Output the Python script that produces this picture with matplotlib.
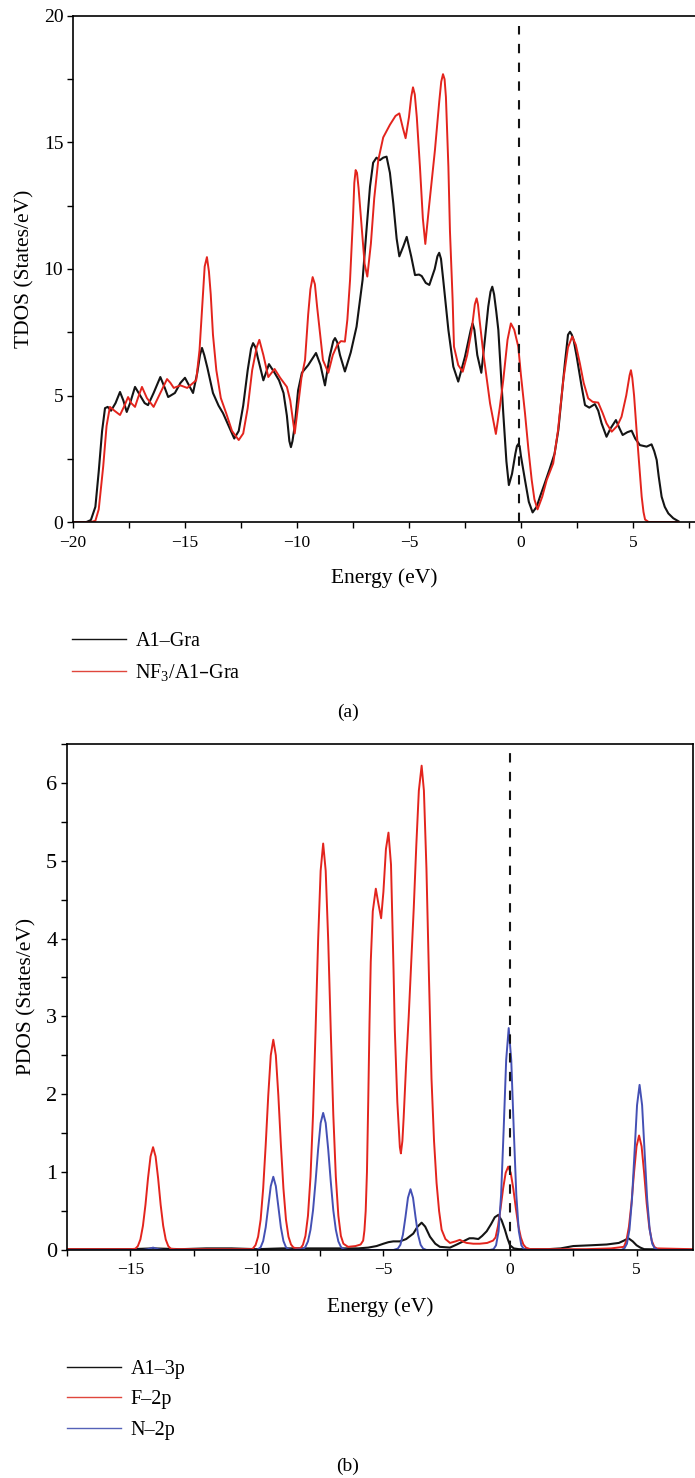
import numpy as np
import matplotlib
matplotlib.use('Agg')
import matplotlib.pyplot as plt
from matplotlib.lines import Line2D
from matplotlib.ticker import MultipleLocator

plt.rcParams['font.family'] = ['Liberation Serif', 'DejaVu Serif']
plt.rcParams['mathtext.default'] = 'regular'

# total DOS, pristine Al-doped graphene
gra_energy = [-20.0, -19.4, -19.2, -19.0, -18.85, -18.7, -18.57, -18.45, -18.3, -18.1, -17.9, -17.75,
              -17.6, -17.45, -17.23, -17.0, -16.8, -16.65, -16.4, -16.1, -15.9, -15.75, -15.45, -15.2,
              -15.0, -14.82, -14.64, -14.45, -14.33, -14.24, -14.14, -14.0, -13.75, -13.5, -13.3, -13.05,
              -12.8, -12.6, -12.4, -12.2, -12.05, -11.96, -11.85, -11.75, -11.5, -11.25, -11.0, -10.8,
              -10.6, -10.45, -10.34, -10.27, -10.2, -10.1, -9.95, -9.78, -9.5, -9.15, -8.95, -8.75,
              -8.55, -8.38, -8.3, -8.2, -8.08, -7.86, -7.6, -7.34, -7.07, -6.9, -6.74, -6.6, -6.45,
              -6.3, -6.15, -6.0, -5.85, -5.7, -5.55, -5.43, -5.25, -5.1, -4.9, -4.73, -4.55, -4.43,
              -4.25, -4.09, -3.85, -3.73, -3.65, -3.57, -3.47, -3.24, -3.02, -2.8, -2.5, -2.24, -2.16,
              -2.08, -1.95, -1.77, -1.6, -1.46, -1.36, -1.28, -1.2, -1.1, -1.01, -0.79, -0.65, -0.54,
              -0.4, -0.25, -0.18, -0.12, -0.06, 0.0, 0.18, 0.35, 0.52, 0.7, 0.85, 1.05, 1.29, 1.5,
              1.67, 1.85, 1.96, 2.1, 2.19, 2.27, 2.35, 2.49, 2.7, 2.86, 3.05, 3.3, 3.45, 3.6, 3.82,
              4.0, 4.24, 4.4, 4.54, 4.75, 4.94, 5.1, 5.31, 5.61, 5.83, 5.95, 6.06, 6.15, 6.28, 6.42,
              6.58, 6.8, 7.03]
gra_tdos = [0.0, 0.0, 0.08, 0.6, 2.0, 3.6, 4.5, 4.55, 4.4, 4.7, 5.14, 4.8,
            4.35, 4.7, 5.34, 5.0, 4.7, 4.62, 5.1, 5.73, 5.3, 4.94, 5.1, 5.5,
            5.7, 5.4, 5.1, 5.9, 6.6, 6.88, 6.6, 6.1, 5.1, 4.6, 4.3, 3.8,
            3.3, 3.6, 4.6, 6.0, 6.85, 7.07, 6.9, 6.5, 5.6, 6.24, 5.9, 5.6,
            5.1, 4.2, 3.2, 2.96, 3.2, 3.8, 5.2, 5.9, 6.2, 6.68, 6.2, 5.4,
            6.5, 7.15, 7.27, 7.1, 6.6, 5.95, 6.7, 7.72, 9.57, 11.5, 13.25, 14.2, 14.4,
            14.3, 14.4, 14.44, 13.8, 12.6, 11.2, 10.5, 10.9, 11.27, 10.5, 9.76, 9.78, 9.72,
            9.45, 9.37, 10.0, 10.5, 10.64, 10.4, 9.57, 7.59, 6.14, 5.55, 6.53, 7.6, 7.85,
            7.6, 6.6, 5.9, 7.3, 8.51, 9.1, 9.3, 9.0, 8.3, 7.59, 4.3, 2.4, 1.46,
            1.9, 2.7, 3.0, 3.08, 3.0, 2.6, 1.66, 0.8, 0.38, 0.6, 1.0, 1.5, 2.12, 2.7,
            3.64, 5.3, 6.27, 7.4, 7.52, 7.4, 7.2, 6.53, 5.4, 4.62, 4.52, 4.66, 4.4, 3.9, 3.37,
            3.7, 4.03, 3.7, 3.44, 3.55, 3.61, 3.3, 3.04, 2.98, 3.07, 2.8, 2.45, 1.8, 1.0, 0.6,
            0.34, 0.15, 0.03]

# total DOS after NF3 adsorption
nf3_energy = [-20.0, -19.2, -19.0, -18.85, -18.65, -18.5, -18.35, -18.15, -17.9, -17.7, -17.54, -17.4,
              -17.23, -17.1, -16.92, -16.7, -16.4, -16.1, -15.8, -15.65, -15.5, -15.35, -15.2, -15.05,
              -14.9, -14.7, -14.5, -14.35, -14.28, -14.2, -14.12, -14.02, -13.93, -13.85, -13.75, -13.6,
              -13.4, -13.16, -12.9, -12.6, -12.4, -12.2, -12.0, -11.8, -11.68, -11.5, -11.28, -11.0,
              -10.75, -10.45, -10.3, -10.1, -9.95, -9.8, -9.64, -9.5, -9.4, -9.3, -9.2, -9.1, -8.84,
              -8.6, -8.4, -8.2, -8.04, -7.86, -7.75, -7.63, -7.5, -7.44, -7.38, -7.32, -7.25, -7.11,
              -6.98, -6.86, -6.7, -6.55, -6.37, -6.15, -5.85, -5.6, -5.43, -5.28, -5.15, -5.0, -4.9,
              -4.82, -4.74, -4.65, -4.51, -4.38, -4.27, -4.1, -3.84, -3.65, -3.56, -3.48, -3.41, -3.35,
              -3.24, -3.17, -3.05, -2.99, -2.8, -2.6, -2.4, -2.2, -2.06, -1.98, -1.92, -1.85, -1.68,
              -1.38, -1.12, -0.95, -0.79, -0.6, -0.45, -0.3, -0.12, 0.0, 0.18, 0.33, 0.48, 0.6, 0.74,
              0.95, 1.15, 1.44, 1.65, 1.89, 2.1, 2.29, 2.45, 2.63, 2.8, 3.0, 3.2, 3.45, 3.65, 3.82,
              4.05, 4.3, 4.49, 4.7, 4.85, 4.91, 4.97, 5.05, 5.16, 5.3, 5.39, 5.47, 5.54, 5.7, 7.03]
nf3_tdos = [0.0, 0.0, 0.05, 0.5, 2.2, 3.8, 4.55, 4.4, 4.23, 4.6, 4.94, 4.7,
            4.55, 4.9, 5.34, 4.9, 4.55, 5.1, 5.65, 5.5, 5.3, 5.35, 5.4, 5.35,
            5.3, 5.45, 5.6, 6.8, 7.8, 9.0, 10.1, 10.47, 9.9, 9.0, 7.4, 6.0,
            4.9, 4.3, 3.6, 3.24, 3.5, 4.5, 6.0, 6.9, 7.2, 6.6, 5.73, 6.05,
            5.7, 5.34, 4.8, 3.5, 4.6, 5.7, 6.4, 8.2, 9.2, 9.68, 9.4, 8.5, 6.4,
            5.9, 6.6, 7.0, 7.15, 7.13, 8.0, 9.57, 12.0, 13.4, 13.91, 13.8, 13.2, 11.67,
            10.2, 9.7, 11.0, 12.8, 14.3, 15.2, 15.7, 16.05, 16.15, 15.6, 15.17, 16.0, 16.8,
            17.18, 16.9, 16.0, 14.04, 12.0, 10.99, 12.5, 14.7, 16.6, 17.4, 17.7, 17.5, 16.8,
            14.04, 11.5, 8.77, 6.93, 6.2, 5.94, 6.6, 7.59, 8.6, 8.84, 8.6, 8.0, 6.67,
            4.69, 3.48, 4.5, 5.61, 7.2, 7.85, 7.6, 6.93, 5.8, 4.3, 2.9, 1.66, 0.9, 0.5,
            1.0, 1.66, 2.32, 3.6, 5.61, 6.9, 7.33, 7.0, 6.27, 5.5, 4.89, 4.75, 4.72, 4.3, 3.9,
            3.57, 3.8, 4.16, 5.0, 5.8, 6.0, 5.7, 5.0, 3.64, 2.0, 1.0, 0.4, 0.1, 0.0, 0.0]

# projected DOS: Al-3p
al_energy = [-17.5, -15.0, -14.1, -13.0, -12.0, -11.0, -10.0, -9.0, -8.0, -7.0, -6.0, -5.6, -5.27,
             -5.0, -4.8, -4.61, -4.35, -4.1, -3.82, -3.65, -3.49, -3.35, -3.16, -2.95, -2.77, -2.37,
             -2.1, -1.85, -1.6, -1.45, -1.25, -1.1, -0.92, -0.75, -0.6, -0.46, -0.33, -0.2, -0.1,
             0.0, 0.15, 0.35, 1.5, 2.0, 2.5, 3.2, 3.82, 4.3, 4.5, 4.68, 4.85, 5.0, 5.15, 5.3, 7.2]
al_3p = [0.01, 0.01, 0.02, 0.01, 0.02, 0.02, 0.01, 0.02, 0.02, 0.02, 0.02, 0.03, 0.05,
         0.08, 0.1, 0.11, 0.11, 0.14, 0.21, 0.3, 0.35, 0.3, 0.17, 0.08, 0.04, 0.03,
         0.07, 0.11, 0.15, 0.15, 0.14, 0.18, 0.24, 0.33, 0.42, 0.45, 0.38, 0.26, 0.15,
         0.06, 0.02, 0.01, 0.01, 0.02, 0.05, 0.06, 0.07, 0.09, 0.12, 0.15, 0.11, 0.06, 0.03, 0.01, 0.0]

# projected DOS: F-2p
f_energy = [-17.5, -16.0, -15.0, -14.8, -14.7, -14.6, -14.5, -14.4, -14.3, -14.2, -14.1, -14.0, -13.9,
            -13.8, -13.7, -13.6, -13.5, -13.4, -13.2, -10.5, -10.2, -10.15, -10.05, -9.95, -9.85,
            -9.75, -9.65, -9.55, -9.45, -9.35, -9.25, -9.15, -9.05, -8.95, -8.85, -8.75, -8.65,
            -8.55, -8.4, -8.28, -8.18, -8.08, -7.98, -7.88, -7.78, -7.68, -7.58, -7.48, -7.38,
            -7.28, -7.18, -7.08, -6.98, -6.88, -6.78, -6.68, -6.58, -6.4, -6.1, -5.9, -5.8, -5.75,
            -5.7, -5.65, -5.6, -5.55, -5.5, -5.42, -5.3, -5.2, -5.09, -5.0, -4.9, -4.8, -4.7, -4.6,
            -4.55, -4.45, -4.35, -4.31, -4.25, -4.2, -4.1, -4.0, -3.9, -3.8, -3.7, -3.6, -3.49,
            -3.4, -3.3, -3.2, -3.1, -3.0, -2.9, -2.8, -2.7, -2.55, -2.37, -2.15, -1.98, -1.8, -1.71,
            -1.45, -1.19, -0.9, -0.67, -0.57, -0.47, -0.37, -0.27, -0.17, -0.07, 0.03, 0.13, 0.23,
            0.33, 0.43, 0.53, 0.63, 0.8, 2.0, 3.0, 4.0, 4.5, 4.6, 4.7, 4.8, 4.9, 5.0, 5.1, 5.2,
            5.3, 5.4, 5.5, 5.6, 5.7, 5.8, 7.2]
f_2p = [0.01, 0.01, 0.01, 0.015, 0.05, 0.135, 0.31, 0.58, 0.92, 1.2, 1.32, 1.2, 0.92,
        0.58, 0.31, 0.135, 0.05, 0.015, 0.01, 0.01, 0.01, 0.02, 0.063, 0.17, 0.39,
        0.79, 1.35, 1.98, 2.5, 2.7, 2.5, 1.98, 1.35, 0.79, 0.39, 0.17, 0.07,
        0.03, 0.02, 0.02, 0.065, 0.18, 0.44, 0.94, 1.74, 2.82, 3.97, 4.87, 5.22,
        4.87, 3.97, 2.82, 1.74, 0.94, 0.44, 0.18, 0.08, 0.04, 0.05, 0.07, 0.12, 0.25,
        0.5, 1.0, 1.9, 2.9, 3.7, 4.35, 4.64, 4.45, 4.26, 4.6, 5.15, 5.36, 4.95, 3.6,
        2.83, 1.9, 1.32, 1.24, 1.4, 1.7, 2.4, 3.0, 3.7, 4.4, 5.2, 5.9, 6.22,
        5.9, 4.9, 3.5, 2.2, 1.4, 0.86, 0.5, 0.26, 0.14, 0.09, 0.11, 0.13, 0.1, 0.09,
        0.08, 0.08, 0.09, 0.12, 0.16, 0.31, 0.54, 0.79, 0.99, 1.07, 0.99, 0.79, 0.54,
        0.31, 0.16, 0.07, 0.03, 0.01, 0.01, 0.01, 0.02, 0.04, 0.12, 0.3, 0.6, 0.99, 1.33, 1.47, 1.33,
        0.99, 0.6, 0.3, 0.12, 0.04, 0.02, 0.01]

# projected DOS: N-2p
n_energy = [-17.5, -14.5, -14.3, -14.1, -13.9, -13.7, -10.0, -9.95, -9.85, -9.75, -9.65, -9.55, -9.45,
            -9.35, -9.25, -9.15, -9.05, -8.95, -8.85, -8.75, -8.6, -8.18, -8.08, -7.98, -7.88, -7.78,
            -7.68, -7.58, -7.48, -7.38, -7.28, -7.18, -7.08, -6.98, -6.88, -6.78, -6.68, -6.58, -6.4,
            -4.6, -4.43, -4.33, -4.23, -4.13, -4.03, -3.93, -3.83, -3.73, -3.63, -3.53, -3.43, -3.3,
            -0.8, -0.65, -0.55, -0.45, -0.35, -0.25, -0.15, -0.05, 0.05, 0.15, 0.25, 0.35, 0.45,
            0.55, 0.7, 4.4, 4.52, 4.62, 4.72, 4.82, 4.92, 5.02, 5.12, 5.22, 5.32, 5.42, 5.52, 5.62,
            5.72, 5.85, 7.2]
n_2p = [0.0, 0.0, 0.01, 0.03, 0.01, 0.0, 0.0, 0.01, 0.035, 0.115, 0.29, 0.555, 0.82,
        0.94, 0.82, 0.555, 0.29, 0.115, 0.035, 0.01, 0.0, 0.01, 0.04, 0.11, 0.26, 0.51,
        0.88, 1.29, 1.63, 1.76, 1.63, 1.29, 0.88, 0.51, 0.26, 0.11, 0.04, 0.01, 0.0,
        0.0, 0.017, 0.066, 0.195, 0.42, 0.67, 0.78, 0.67, 0.42, 0.195, 0.066, 0.017, 0.0,
        0.0, 0.01, 0.06, 0.24, 0.71, 1.54, 2.44, 2.85, 2.44, 1.54, 0.71, 0.24, 0.06,
        0.01, 0.0, 0.0, 0.02, 0.08, 0.26, 0.65, 1.25, 1.86, 2.12, 1.86, 1.25, 0.65, 0.26, 0.08,
        0.02, 0.0, 0.0]

RED = '#e3241d'
BLUE = '#4450b4'
BLACK = '#141414'


def style_axis(ax, xmajor, xminor, ymajor, yminor):
    ax.xaxis.set_major_locator(MultipleLocator(xmajor))
    ax.xaxis.set_minor_locator(MultipleLocator(xminor))
    ax.yaxis.set_major_locator(MultipleLocator(ymajor))
    ax.yaxis.set_minor_locator(MultipleLocator(yminor))
    ax.tick_params(which='both', direction='out', length=4, width=1, top=False, right=False)
    ax.tick_params(axis='x', labelsize=12.5, pad=5)
    ax.tick_params(axis='y', labelsize=14, pad=3)
    for spine in ax.spines.values():
        spine.set_linewidth(1.2)


fig = plt.figure(figsize=(6.95, 14.78), dpi=100)

# (a) total DOS
ax1 = fig.add_axes([0.105, 0.6468, 0.895, 0.3424])
ax1.plot(gra_energy, gra_tdos, color=BLACK, lw=1.5, solid_joinstyle='round')
ax1.plot(nf3_energy, nf3_tdos, color=RED, lw=1.4, solid_joinstyle='round')
ax1.plot([-0.1, -0.1], [0, 19.6], color=BLACK, lw=1.5, ls=(0, (4.5, 4.5)), zorder=5)
ax1.set_xlim(-20, 7.77)
ax1.set_ylim(0, 20)
ax1.spines['right'].set_visible(False)
style_axis(ax1, 5, 2.5, 5, 2.5)
ax1.set_xlabel('Energy (eV)', fontsize=15.5)
ax1.set_ylabel('TDOS (States/eV)', fontsize=15.5)
ax1.xaxis.set_label_coords(0.5, -0.092)
ax1.yaxis.set_label_coords(-0.062, 0.5)

handles_a = [Line2D([], [], color=BLACK, lw=1.0), Line2D([], [], color='#e0463c', lw=1.0)]
fig.legend(handles_a, ['A1–Gra', 'NF$_3$/A1–Gra'], loc='upper left', bbox_to_anchor=(0.1036, 0.5725),
           frameon=False, fontsize=14.5, handlelength=2.7, handletextpad=0.45, labelspacing=0.55,
           borderpad=0, borderaxespad=0)
fig.text(0.5, 0.5183, '(a)', ha='center', va='center', fontsize=14)

# (b) projected DOS
ax2 = fig.add_axes([0.0964, 0.1543, 0.9007, 0.3424])
ax2.plot(al_energy, al_3p, color=BLACK, lw=1.5, solid_joinstyle='round')
ax2.plot(f_energy, f_2p, color=RED, lw=1.4, solid_joinstyle='round')
ax2.plot(n_energy, n_2p, color=BLUE, lw=1.4, solid_joinstyle='round')
ax2.plot([0, 0], [0, 6.45], color=BLACK, lw=1.5, ls=(0, (4.5, 4.5)), zorder=5)
ax2.set_xlim(-17.5, 7.23)
ax2.set_ylim(0, 6.5)
style_axis(ax2, 5, 2.5, 1, 0.5)
ax2.tick_params(axis='y', labelsize=16)
ax2.set_xlabel('Energy (eV)', fontsize=15.5)
ax2.set_ylabel('PDOS (States/eV)', fontsize=15.5)
ax2.xaxis.set_label_coords(0.5, -0.094)
ax2.yaxis.set_label_coords(-0.048, 0.5)

handles_b = [Line2D([], [], color=BLACK, lw=1.0), Line2D([], [], color='#e0463c', lw=1.0),
             Line2D([], [], color='#5562b8', lw=1.0)]
fig.legend(handles_b, ['A1–3p', 'F–2p', 'N–2p'], loc='upper left', bbox_to_anchor=(0.0964, 0.0802),
           frameon=False, fontsize=14.5, handlelength=2.7, handletextpad=0.45, labelspacing=0.58,
           borderpad=0, borderaxespad=0)
fig.text(0.5, 0.0081, '(b)', ha='center', va='center', fontsize=14)

fig.savefig('out.png', dpi=100)
